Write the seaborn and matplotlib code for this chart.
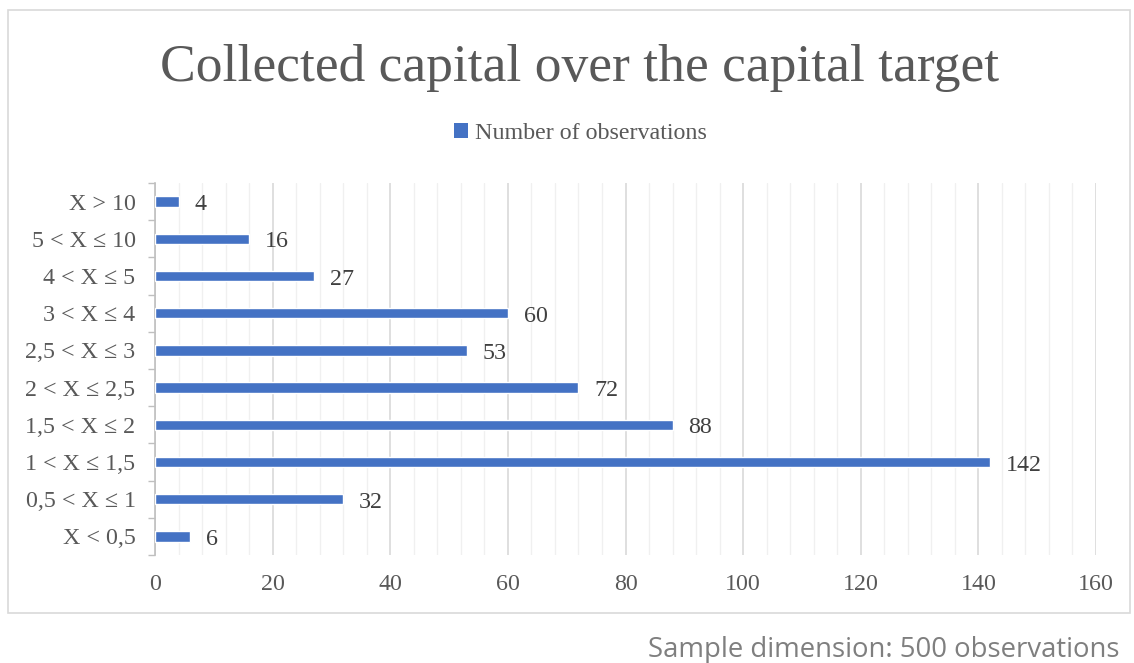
import matplotlib
matplotlib.use("Agg")
import matplotlib.pyplot as plt
import seaborn as sns
import pandas as pd
from matplotlib.patches import Patch, Rectangle
from matplotlib.ticker import MultipleLocator

# Ranges of collected capital / capital target, top to bottom
categories = ["X > 10", "5 < X ≤ 10", "4 < X ≤ 5", "3 < X ≤ 4", "2,5 < X ≤ 3",
              "2 < X ≤ 2,5", "1,5 < X ≤ 2", "1 < X ≤ 1,5", "0,5 < X ≤ 1", "X < 0,5"]
observations = [4, 16, 27, 60, 53, 72, 88, 142, 32, 6]
x_ticks = [0, 20, 40, 60, 80, 100, 120, 140, 160]

series_name = "Number of observations"
title = "Collected capital over the capital target"
footer = "Sample dimension: 500 observations"

bar_color = "#4472C4"
text_color = "#595959"
label_size = 17.3

df = pd.DataFrame({"range": categories, "count": observations})

sns.set_theme(style="white")
plt.rcParams["font.family"] = ["Liberation Serif", "DejaVu Serif"]

fig = plt.figure(figsize=(11.34, 6.63), dpi=100)
ax = fig.add_axes([0.1367, 0.163, 0.8298, 0.561])

sns.barplot(data=df, y="range", x="count", order=categories, color=bar_color,
            saturation=1, width=0.28, orient="h", ax=ax, zorder=3)

ax.set_xlim(x_ticks[0], x_ticks[-1])
ax.set_xticks(x_ticks)
ax.xaxis.set_minor_locator(MultipleLocator(4))
ax.grid(axis="x", which="major", color="#d9d9d9", linewidth=1.2, zorder=0)
ax.grid(axis="x", which="minor", color="#f0f0f0", linewidth=1.0, zorder=0)
ax.grid(axis="y", visible=False)
ax.set_axisbelow(True)

# category boundary ticks on the left axis
n = len(categories)
ax.set_yticks([i - 0.5 for i in range(n + 1)], minor=True)
ax.tick_params(axis="y", which="minor", length=5, color="#bfbfbf", width=1, left=True)
ax.tick_params(axis="y", which="major", length=0, pad=14, labelsize=label_size, labelcolor=text_color)
ax.tick_params(axis="x", which="both", length=0, pad=14, labelsize=label_size, labelcolor=text_color)
ax.set_ylim(n - 0.5, -0.5)

for side in ["top", "right", "bottom"]:
    ax.spines[side].set_visible(False)
ax.spines["left"].set_color("#bfbfbf")
ax.spines["left"].set_linewidth(1.2)

ax.set_xlabel("")
ax.set_ylabel("")

for cont in ax.containers:
    texts = ax.bar_label(cont, labels=[str(v) for v in observations], padding=11.5,
                         fontsize=label_size, color="#404040")
    for t in texts:
        ox, oy = t.xyann
        t.xyann = (ox, oy - 2.2)

fig.suptitle(title, x=0.511, y=0.933, fontsize=38.5, color=text_color)

handle = Patch(facecolor=bar_color, edgecolor="none")
fig.legend([handle], [series_name], loc="center", bbox_to_anchor=(0.512, 0.799),
           frameon=False, fontsize=label_size, labelcolor=text_color,
           handlelength=0.55, handleheight=0.55, handletextpad=0.3)

# chart area frame
fig.patches.append(Rectangle((8 / 1134, 1 - 613 / 663), (1130 - 8) / 1134, (613 - 10) / 663,
                             transform=fig.transFigure, fill=False,
                             edgecolor="#d9d9d9", linewidth=1.2))

fig.text(1120 / 1134, 1 - 650 / 663, footer, ha="right", va="center",
         fontsize=19.8, color="#7f7f7f", family=["Open Sans", "DejaVu Sans"])

fig.savefig("out.png", dpi=100)
